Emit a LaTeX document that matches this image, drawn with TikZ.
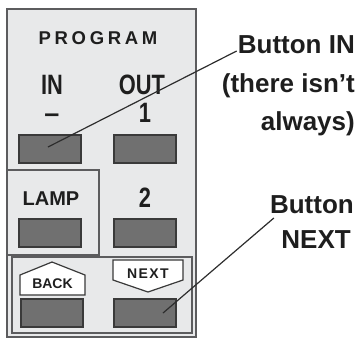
\documentclass[tikz,border=0pt]{standalone}
\usepackage{fontspec}
\setmainfont{Liberation Sans}
\newfontfamily\condfont{Liberation Sans}[FakeStretch=0.78]
\newfontfamily\spacedfont{Liberation Sans}[LetterSpace=20]
\newfontfamily\tagfont{Liberation Sans}[LetterSpace=10]
\definecolor{panelbg}{RGB}{232,233,234}
\definecolor{panelline}{RGB}{92,92,94}
\definecolor{btnfill}{RGB}{112,112,112}
\definecolor{btnline}{RGB}{58,58,58}
\definecolor{inkdark}{RGB}{30,30,30}
\definecolor{leadline}{RGB}{45,45,45}

\begin{document}
\begin{tikzpicture}[x=1pt, y=-1pt, font=\bfseries, text=inkdark,
      btn/.style={rectangle, draw=btnline, line width=1.6pt, fill=btnfill,
                  minimum width=62pt, minimum height=28pt, inner sep=0pt},
      keylbl/.style={inner sep=0pt, anchor=base, font=\condfont\bfseries\fontsize{28}{30}\selectfont},
      panellbl/.style={inner sep=0pt, anchor=base},
      callout/.style={inner sep=0pt, anchor=base east, font=\bfseries\fontsize{26}{30}\selectfont},
      tagbox/.style={draw=btnline, line width=1.2pt, fill=white, line join=miter},
      leader/.style={draw=leadline, line width=1.2pt}]
    \useasboundingbox (0,0) rectangle (358,341);
    % panel and its sections
    \draw[panelline, line width=2.5pt, fill=panelbg] (7,9) rectangle (196,337);
    \draw[panelline, line width=2pt] (7,170) -- (99,170) -- (99,255) -- (7,255);
    \draw[panelline, line width=2pt] (12,257) rectangle (192,333);
    % texts on the panel
    \node[panellbl, font=\spacedfont\bfseries\fontsize{18.5}{20}\selectfont] (progLbl) at (98,44) {PROGRAM};
    \node[keylbl] (inLbl) at (52,94) {IN};
    \node[keylbl] (outLbl) at (142,94) {OUT};
    \node[panellbl, font=\bfseries\fontsize{27}{30}\selectfont] (dashLbl) at (52,122) {\textendash};
    \node[keylbl] (oneLbl) at (145,122) {1};
    \node[panellbl, font=\bfseries\fontsize{20}{22}\selectfont] (lampLbl) at (51,205) {LAMP};
    \node[keylbl] (twoLbl) at (145,207) {2};
    % buttons
    \node[btn] (inBtn) at (50,149) {};
    \node[btn] (outBtn) at (145,149) {};
    \node[btn] (lampBtn) at (50,233) {};
    \node[btn] (twoBtn) at (145,233) {};
    \node[btn] (backBtn) at (52,313) {};
    \node[btn] (nextBtn) at (145,313) {};
    % arrow tags
    \draw[tagbox] (20,295) -- (20,275) -- (52,262) -- (85,275) -- (85,295) -- cycle;
    \draw[tagbox] (113,260) -- (183,260) -- (183,280) -- (148,292) -- (113,280) -- cycle;
    \node[panellbl, font=\bfseries\fontsize{14}{16}\selectfont] (backLbl) at (52.5,288) {BACK};
    \node[panellbl, font=\tagfont\bfseries\fontsize{14}{16}\selectfont] (nextLbl) at (148,278) {NEXT};
    % callouts
    \node[callout] (calIn) at (355,53) {Button IN};
    \node[callout] (calNote) at (355,92) {(there isn’t};
    \node[callout] (calAlways) at (355,130) {always)};
    \node[callout] (calBtn) at (354,213) {Button};
    \node[callout] (calNext) at (351,248) {NEXT};
    \coordinate (inTip) at (48,147);
    \coordinate (nextTip) at (163,313);
    \draw[leader] (inTip) -- ([shift={(-1,-2)}]calIn.base west);
    \draw[leader] (nextTip) -- ([shift={(4,5)}]calBtn.base west);
  \end{tikzpicture}
\end{document}
